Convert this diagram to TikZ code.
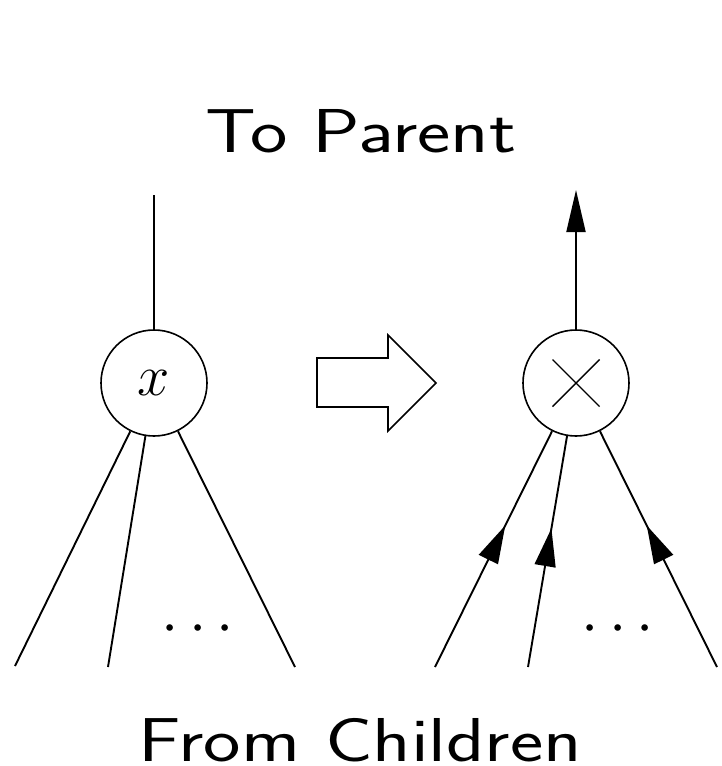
\RequirePackage{fix-cm}
\documentclass[tikz,border=0pt]{standalone}
\usepackage{graphicx}
\usetikzlibrary{arrows.meta,decorations.markings}
\begin{document}
\begin{tikzpicture}[x=1pt,y=-1pt,line width=1.9pt,
  vertex/.style={circle,draw,minimum size=106pt,inner sep=0pt,line width=1.6pt},
  bigtext/.style={font=\fontsize{62}{70}\selectfont\sffamily,anchor=base,inner sep=0pt},
  dotsnode/.style={font=\fontsize{62}{70}\selectfont,inner sep=0pt},
  midarrow/.style={postaction={decorate},decoration={markings,
     mark=at position 0.6 with {\arrow{Triangle[length=38pt,width=21pt]}}}},
  uptip/.style={-{Triangle[length=42pt,width=19pt]}}
]
\useasboundingbox (0,0) rectangle (721,766);
% titles
\node[bigtext] (top) at (361,152) {\scalebox{1.28}[1]{To Parent}};
\node[bigtext] (bot) at (360,761) {\scalebox{1.28}[1]{From Children}};
% left tree
\node[vertex,font=\fontsize{58}{60}\selectfont] (L) at (154,383) {$x$};
\coordinate (lt) at (154,195);
\coordinate (lb1) at (15,666);
\coordinate (lb2) at (108,667);
\coordinate (lb3) at (295,667);
\draw (L) -- (lt);
\draw (L) -- (lb1);
\draw (L) -- (lb2);
\draw (L) -- (lb3);
\node[dotsnode] (ldots) at (198,630) {$\cdots$};
% block arrow
\draw[line width=1.6pt] (317,358) -- (388,358) -- (388,335) -- (436,383) -- (388,431) -- (388,407) -- (317,407) -- cycle;
% right tree
\node[vertex] (R) at (576,383) {};
\draw[line width=1.4pt] ([shift={(-23.5,-23.5)}]R.center) -- ([shift={(23.5,23.5)}]R.center);
\draw[line width=1.4pt] ([shift={(-23.5,23.5)}]R.center) -- ([shift={(23.5,-23.5)}]R.center);
\coordinate (rt) at (576,190);
\coordinate (rb1) at (435,667);
\coordinate (rb2) at (528,667);
\coordinate (rb3) at (717,667);
\draw[uptip] (R) -- (rt);
\draw[midarrow] (rb1) -- (R);
\draw[midarrow] (rb2) -- (R);
\draw[midarrow] (rb3) -- (R);
\node[dotsnode] (rdots) at (618,630) {$\cdots$};
\end{tikzpicture}
\end{document}
